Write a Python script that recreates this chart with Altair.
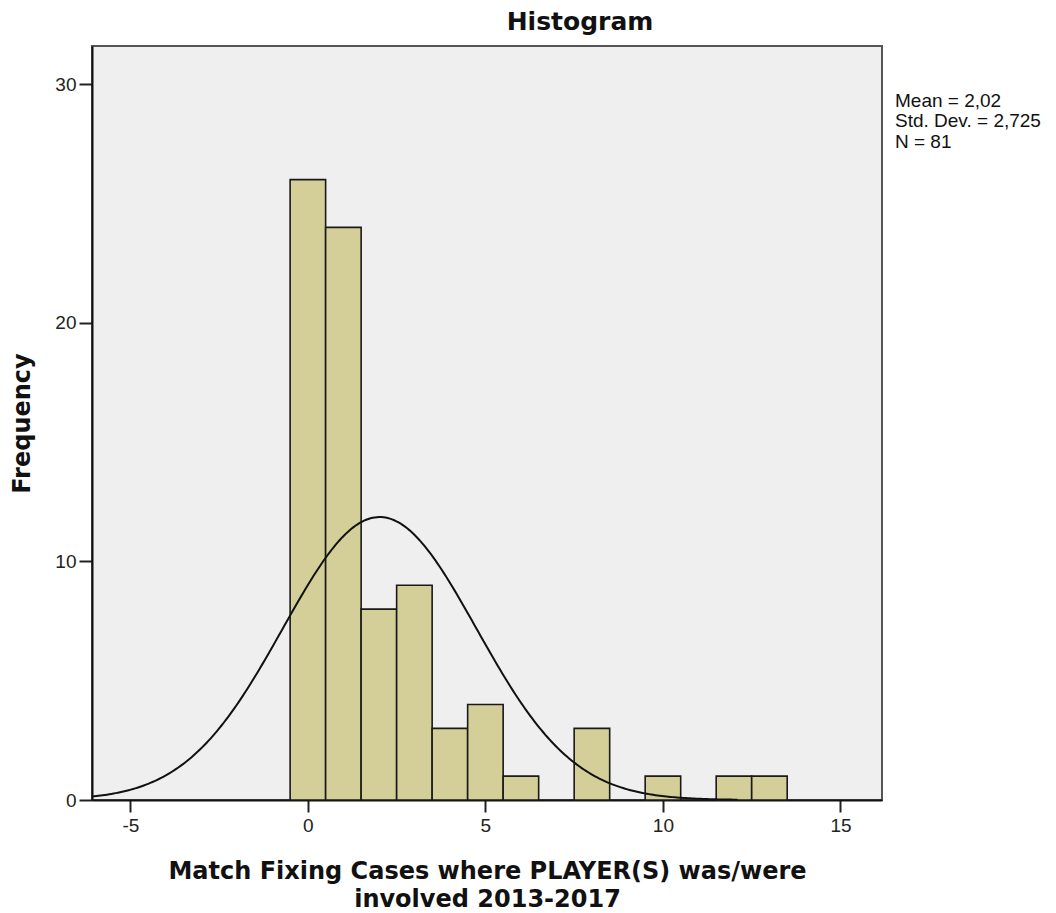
import altair as alt
import numpy as np
import pandas as pd

# Histogram data (bin centres, width 1)
bin_centers = [0, 1, 2, 3, 4, 5, 6, 7, 8, 9, 10, 11, 12, 13]
counts = [26, 24, 8, 9, 3, 4, 1, 0, 3, 0, 1, 0, 1, 1]
bin_width = 1.0

# Summary statistics shown in the chart
mean_val = 2.02
sd_val = 2.725
n_val = 81
stat_lines = ["Mean = 2,02", "Std. Dev. = 2,725", "N = 81"]
title_text = "Histogram"

x_ticks = [-5, 0, 5, 10, 15]
y_ticks = [0, 10, 20, 30]
x_domain = [-6.08, 16.17]
y_domain = [0, 31.6]

bars = pd.DataFrame({
    "start": [c - bin_width / 2 for c in bin_centers],
    "end": [c + bin_width / 2 for c in bin_centers],
    "count": counts,
})
bars = bars[bars["count"] > 0]

# fitted normal curve (from the displayed mean, sd, N)
xs = np.linspace(-6.08, 12.1, 300)
ys = n_val * bin_width * np.exp(-0.5 * ((xs - mean_val) / sd_val) ** 2) / (sd_val * np.sqrt(2 * np.pi))
curve = pd.DataFrame({"x": xs, "y": ys})

xscale = alt.Scale(domain=x_domain, nice=False, zero=False)
yscale = alt.Scale(domain=y_domain, nice=False)

xaxis = alt.Axis(
    values=x_ticks, title=["Match Fixing Cases where PLAYER(S) was/were", "involved 2013-2017"],
    labelExpr="datum.value + ''",
    grid=False, tickSize=12, tickColor="#222", tickWidth=2, domainColor="#111", domainWidth=2,
    labelFont="Liberation Sans", labelFontSize=19, labelColor="#222", labelPadding=4,
    titleFont="DejaVu Sans", titleFontWeight="bold", titleFontSize=24, titleColor="#111",
    titlePadding=24, titleLineHeight=28,
)
yaxis = alt.Axis(
    values=y_ticks, title="Frequency",
    grid=False, tickSize=13, tickColor="#222", tickWidth=2, domainColor="#111", domainWidth=2,
    labelFont="Liberation Sans", labelFontSize=19, labelColor="#222", labelPadding=3,
    titleFont="DejaVu Sans", titleFontWeight="bold", titleFontSize=24, titleColor="#111",
    titlePadding=20,
)

hist = alt.Chart(bars).mark_rect(
    fill="#D4CF98", stroke="#1a1a1a", strokeWidth=1.6
).encode(
    x=alt.X("start:Q", scale=xscale, axis=xaxis),
    x2="end:Q",
    y=alt.Y("count:Q", scale=yscale, axis=yaxis),
    y2=alt.datum(0),
)

line = alt.Chart(curve).mark_line(color="#111", strokeWidth=2, clip=True).encode(
    x=alt.X("x:Q", scale=xscale),
    y=alt.Y("y:Q", scale=yscale),
)

stats = alt.Chart(pd.DataFrame({"a": [0]})).mark_text(
    text=stat_lines, align="left", baseline="alphabetic", font="Liberation Sans",
    fontSize=19, lineHeight=20.5, color="#111",
).encode(x=alt.value(803), y=alt.value(60.7))

title = alt.Chart(pd.DataFrame({"a": [0]})).mark_text(
    text=title_text, align="center", baseline="alphabetic", font="DejaVu Sans",
    fontSize=25, fontWeight="bold", color="#111",
).encode(x=alt.value(488), y=alt.value(-16))

chart = alt.layer(hist, line, stats, title).properties(
    width=790, height=754,
    background="white",
    padding={"left": 92, "top": 46, "right": 174, "bottom": 113},
    autosize=alt.AutoSizeParams(type="none"),
).configure_view(
    fill="#EFEFEF", stroke="#555555", strokeWidth=2
)

chart.save("out.html", embed_options={"renderer": "svg", "actions": False})
